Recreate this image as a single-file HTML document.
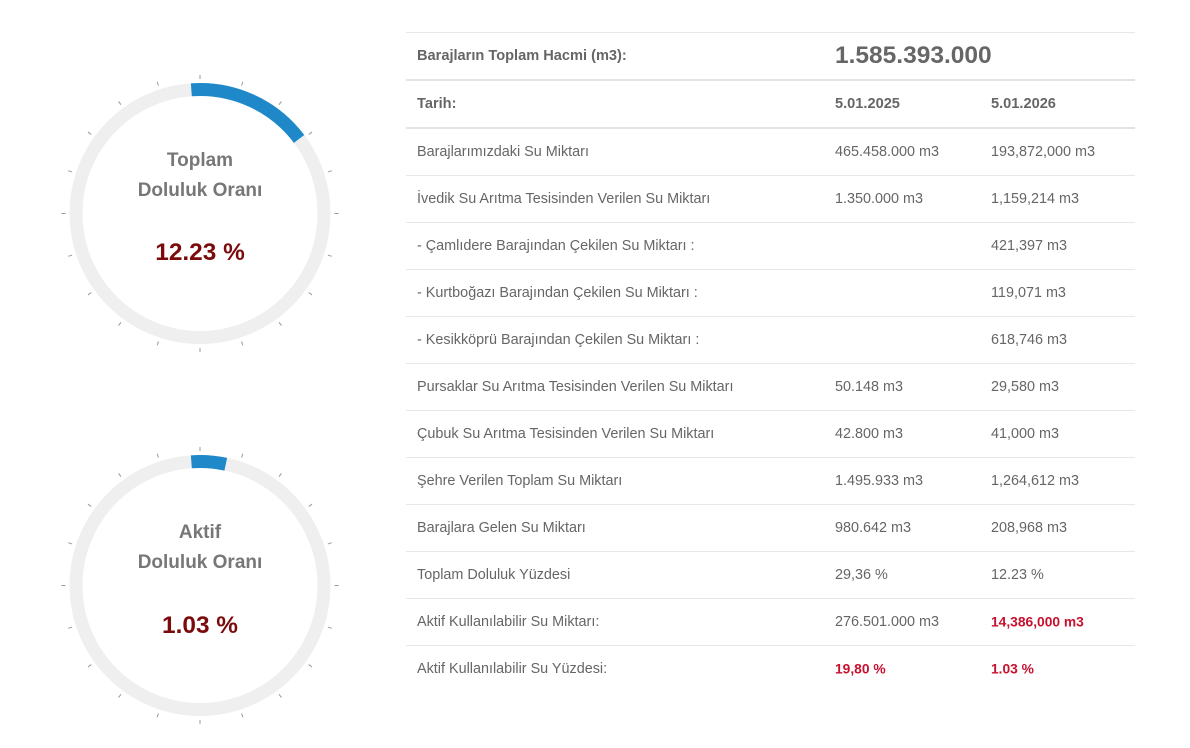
<!DOCTYPE html>
<html><head><meta charset="utf-8"><style>
body{margin:0;width:1190px;height:748px;background:#fff;font-family:"Liberation Sans",sans-serif;position:relative;overflow:hidden}
.t{position:absolute;font-size:14.4px;color:#666;white-space:nowrap;transform:translateY(-50%)}
.b{font-weight:bold;font-size:14.6px;color:#666}
.r{color:#c8102e;font-weight:bold;font-size:13.8px}
.ln{position:absolute;left:406px;width:729px;height:1px;background:#e8e8e8}
.ln2{height:2px;background:#e3e3e3}
.g{position:absolute;left:100px;width:200px;text-align:center;font-weight:bold;color:#777;font-size:19px;transform:translateY(-50%)}
.p{position:absolute;left:100px;width:200px;text-align:center;font-weight:bold;color:#7b0a0a;font-size:24.4px;transform:translateY(-50%)}
</style></head><body>
<svg width="1190" height="748" style="position:absolute;left:0;top:0">
<defs>
<g id="ticks" stroke="#999" stroke-width="1">
<line x1="200" y1="75" x2="200" y2="79" transform="rotate(0 200 213.5)"/><line x1="200" y1="75" x2="200" y2="79" transform="rotate(18 200 213.5)"/><line x1="200" y1="75" x2="200" y2="79" transform="rotate(36 200 213.5)"/><line x1="200" y1="75" x2="200" y2="79" transform="rotate(54 200 213.5)"/><line x1="200" y1="75" x2="200" y2="79" transform="rotate(72 200 213.5)"/><line x1="200" y1="75" x2="200" y2="79" transform="rotate(90 200 213.5)"/><line x1="200" y1="75" x2="200" y2="79" transform="rotate(108 200 213.5)"/><line x1="200" y1="75" x2="200" y2="79" transform="rotate(126 200 213.5)"/><line x1="200" y1="75" x2="200" y2="79" transform="rotate(144 200 213.5)"/><line x1="200" y1="75" x2="200" y2="79" transform="rotate(162 200 213.5)"/><line x1="200" y1="75" x2="200" y2="79" transform="rotate(180 200 213.5)"/><line x1="200" y1="75" x2="200" y2="79" transform="rotate(198 200 213.5)"/><line x1="200" y1="75" x2="200" y2="79" transform="rotate(216 200 213.5)"/><line x1="200" y1="75" x2="200" y2="79" transform="rotate(234 200 213.5)"/><line x1="200" y1="75" x2="200" y2="79" transform="rotate(252 200 213.5)"/><line x1="200" y1="75" x2="200" y2="79" transform="rotate(270 200 213.5)"/><line x1="200" y1="75" x2="200" y2="79" transform="rotate(288 200 213.5)"/><line x1="200" y1="75" x2="200" y2="79" transform="rotate(306 200 213.5)"/><line x1="200" y1="75" x2="200" y2="79" transform="rotate(324 200 213.5)"/><line x1="200" y1="75" x2="200" y2="79" transform="rotate(342 200 213.5)"/>
</g></defs>
<circle cx="200" cy="213.5" r="124" fill="none" stroke="#efefef" stroke-width="13"/>
<circle cx="200" cy="213.5" r="124" fill="none" stroke="#1e88c9" stroke-width="13" stroke-dasharray="123.4 700" transform="rotate(-94 200 213.5)"/>
<use href="#ticks"/>
<g transform="translate(0 372)">
<circle cx="200" cy="213.5" r="124" fill="none" stroke="#efefef" stroke-width="13"/>
<circle cx="200" cy="213.5" r="124" fill="none" stroke="#1e88c9" stroke-width="13" stroke-dasharray="34.6 800" transform="rotate(-94 200 213.5)"/>
<use href="#ticks"/>
</g>
</svg>
<div class="g" style="top:161px">Toplam</div>
<div class="g" style="top:191px">Doluluk Oranı</div>
<div class="p" style="top:253px">12.23 %</div>
<div class="g" style="top:533px">Aktif</div>
<div class="g" style="top:563px">Doluluk Oranı</div>
<div class="p" style="top:626px">1.03 %</div>

<div class="ln" style="top:32px"></div>
<div class="ln ln2" style="top:79px"></div>
<div class="ln ln2" style="top:127px"></div>
<div class="ln" style="top:175px"></div>
<div class="ln" style="top:222px"></div>
<div class="ln" style="top:269px"></div>
<div class="ln" style="top:316px"></div>
<div class="ln" style="top:363px"></div>
<div class="ln" style="top:410px"></div>
<div class="ln" style="top:457px"></div>
<div class="ln" style="top:504px"></div>
<div class="ln" style="top:551px"></div>
<div class="ln" style="top:598px"></div>
<div class="ln" style="top:645px"></div>

<div class="t b" style="left:417px;top:56px">Barajların Toplam Hacmi (m3):</div>
<div class="t" style="left:835px;top:56px;font-size:24.5px;font-weight:bold;color:#666">1.585.393.000</div>
<div class="t b" style="left:417px;top:104px">Tarih:</div>
<div class="t b" style="left:835px;top:104px">5.01.2025</div>
<div class="t b" style="left:991px;top:104px">5.01.2026</div>

<div class="t" style="left:417px;top:152px">Barajlarımızdaki Su Miktarı</div>
<div class="t" style="left:835px;top:152px">465.458.000 m3</div>
<div class="t" style="left:991px;top:152px">193,872,000 m3</div>
<div class="t" style="left:417px;top:199px">İvedik Su Arıtma Tesisinden Verilen Su Miktarı</div>
<div class="t" style="left:835px;top:199px">1.350.000 m3</div>
<div class="t" style="left:991px;top:199px">1,159,214 m3</div>
<div class="t" style="left:417px;top:246px">- Çamlıdere Barajından Çekilen Su Miktarı :</div>
<div class="t" style="left:991px;top:246px">421,397 m3</div>
<div class="t" style="left:417px;top:293px">- Kurtboğazı Barajından Çekilen Su Miktarı :</div>
<div class="t" style="left:991px;top:293px">119,071 m3</div>
<div class="t" style="left:417px;top:340px">- Kesikköprü Barajından Çekilen Su Miktarı :</div>
<div class="t" style="left:991px;top:340px">618,746 m3</div>
<div class="t" style="left:417px;top:387px">Pursaklar Su Arıtma Tesisinden Verilen Su Miktarı</div>
<div class="t" style="left:835px;top:387px">50.148 m3</div>
<div class="t" style="left:991px;top:387px">29,580 m3</div>
<div class="t" style="left:417px;top:434px">Çubuk Su Arıtma Tesisinden Verilen Su Miktarı</div>
<div class="t" style="left:835px;top:434px">42.800 m3</div>
<div class="t" style="left:991px;top:434px">41,000 m3</div>
<div class="t" style="left:417px;top:481px">Şehre Verilen Toplam Su Miktarı</div>
<div class="t" style="left:835px;top:481px">1.495.933 m3</div>
<div class="t" style="left:991px;top:481px">1,264,612 m3</div>
<div class="t" style="left:417px;top:528px">Barajlara Gelen Su Miktarı</div>
<div class="t" style="left:835px;top:528px">980.642 m3</div>
<div class="t" style="left:991px;top:528px">208,968 m3</div>
<div class="t" style="left:417px;top:575px">Toplam Doluluk Yüzdesi</div>
<div class="t" style="left:835px;top:575px">29,36 %</div>
<div class="t" style="left:991px;top:575px">12.23 %</div>
<div class="t" style="left:417px;top:622px">Aktif Kullanılabilir Su Miktarı:</div>
<div class="t" style="left:835px;top:622px">276.501.000 m3</div>
<div class="t r" style="left:991px;top:622px">14,386,000 m3</div>
<div class="t" style="left:417px;top:669px">Aktif Kullanılabilir Su Yüzdesi:</div>
<div class="t r" style="left:835px;top:669px">19,80 %</div>
<div class="t r" style="left:991px;top:669px">1.03 %</div>
</body></html>
